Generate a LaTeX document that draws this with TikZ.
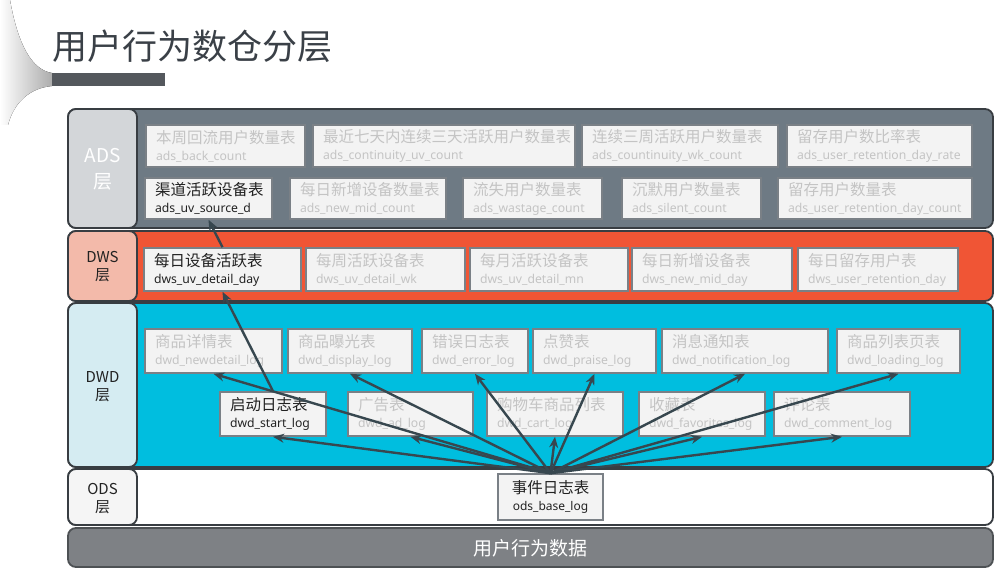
\documentclass[tikz,border=0pt]{standalone}
\usepackage{fontspec}
\setmainfont{Noto Sans CJK SC}
\newfontfamily\cnf{Noto Sans CJK SC}
\newfontfamily\enf{Noto Sans}
\usetikzlibrary{arrows.meta}
\definecolor{adsband}{HTML}{6E7A84}
\definecolor{adslbl}{HTML}{D3D6D9}
\definecolor{dwsband}{HTML}{F05535}
\definecolor{dwslbl}{HTML}{F3BAAA}
\definecolor{dwdband}{HTML}{00BEDF}
\definecolor{dwdlbl}{HTML}{D5ECF2}
\definecolor{odslbl}{HTML}{F5F5F5}
\definecolor{bottomband}{HTML}{7E8185}
\definecolor{bandedge}{HTML}{383D42}
\definecolor{boxedge}{HTML}{7A8086}
\definecolor{boxfill}{HTML}{F3F3F3}
\definecolor{inactive}{HTML}{C4C4C4}
\definecolor{activetext}{HTML}{222222}
\definecolor{arrowcol}{HTML}{37474F}
\definecolor{titlecol}{HTML}{3A4047}
\definecolor{titlebar}{HTML}{54585D}
\newcommand\tb[8]{%
 \pgfmathsetmacro\tbw{#4-#2}\pgfmathsetmacro\tbh{#5-#3}\pgfmathsetmacro\tbt{#4-#2-20}%
 \node[tbox,#6,minimum width=\tbw pt,minimum height=\tbh pt,text width=\tbt pt] (#1) at ({(#2+#4)/2},{(#3+#5)/2}) {#7\\{\enf\fontsize{12.2}{17}\selectfont #8}};}
\begin{document}
\begin{tikzpicture}[x=1pt,y=-1pt,
  band/.style={draw=bandedge, line width=1.8pt, rounded corners=8pt},
  tbox/.style={draw=boxedge, line width=1.6pt, fill=boxfill, inner xsep=10pt, inner ysep=0pt, align=left, text=inactive, font=\cnf\fontsize{15.5}{17}\selectfont},
  active/.style={text=activetext},
  lbltext/.style={align=center, inner sep=0pt},
  arr/.style={draw=arrowcol, line width=2.4pt, -{Stealth[length=11pt,width=9pt]}}]
\useasboundingbox (0,0) rectangle (996,569);
% decorative swoosh
\fill[left color=white, right color=gray!65] (0,0) -- (10,0) .. controls (18,45) and (32,70) .. (52,73) -- (52,86) .. controls (30,88) and (14,102) .. (8,125) -- (0,125) -- cycle;
\fill[titlebar] (52,73) rectangle (165,86);
\node[anchor=west, inner sep=0pt, text=titlecol, font=\cnf\fontsize{35}{40}\selectfont] (title) at (52,46) {用户行为数仓分层};
% bands
\draw[band, fill=adsband] (68,109) rectangle (993,228);
\draw[band, fill=adslbl] (68,109) rectangle (137,228);
\node[lbltext, text=white, font=\cnf\fontsize{19}{26}\selectfont] (adsT) at (102.5,169) {ADS\\层};
\draw[band, fill=dwsband] (68,231) rectangle (993,301);
\draw[band, fill=dwslbl] (68,231) rectangle (137,301);
\node[lbltext, text=activetext, font=\cnf\fontsize{15}{18}\selectfont] (dwsT) at (102.5,267) {DWS\\层};
\draw[band, fill=dwdband] (68,303) rectangle (993,467);
\draw[band, fill=dwdlbl] (68,303) rectangle (137,467);
\node[lbltext, text=activetext, font=\cnf\fontsize{15}{18}\selectfont] (dwdT) at (102.5,387) {DWD\\层};
\draw[band, fill=white] (68,469) rectangle (993,525);
\draw[band, fill=odslbl] (68,469) rectangle (137,525);
\node[lbltext, text=activetext, font=\cnf\fontsize{15}{18}\selectfont] (odsT) at (102.5,499) {ODS\\层};
\draw[band, draw=bandedge!70!gray, fill=bottomband] (68,528) rectangle (993,567);
\node[lbltext, text=white, font=\cnf\fontsize{19}{22}\selectfont] (rawT) at (530.5,548) {用户行为数据};
% ADS tables
\tb{a11}{146}{125}{305}{167}{}{本周回流用户数量表}{ads\_back\_count}
\tb{a12}{313}{125}{575}{167}{}{最近七天内连续三天活跃用户数量表}{ads\_continuity\_uv\_count}
\tb{a13}{582}{125}{778}{167}{}{连续三周活跃用户数量表}{ads\_countinuity\_wk\_count}
\tb{a14}{787}{125}{972}{167}{}{留存用户数比率表}{ads\_user\_retention\_day\_rate}
\tb{a21}{145}{178}{272}{219}{active}{渠道活跃设备表}{ads\_uv\_source\_d}
\tb{a22}{290}{178}{446}{219}{}{每日新增设备数量表}{ads\_new\_mid\_count}
\tb{a23}{463}{178}{602}{219}{}{流失用户数量表}{ads\_wastage\_count}
\tb{a24}{622}{178}{761}{219}{}{沉默用户数量表}{ads\_silent\_count}
\tb{a25}{778}{178}{972}{219}{}{留存用户数量表}{ads\_user\_retention\_day\_count}
% DWS tables
\tb{s1}{144}{248}{301}{291}{active}{每日设备活跃表}{dws\_uv\_detail\_day}
\tb{s2}{306}{248}{465}{291}{}{每周活跃设备表}{dws\_uv\_detail\_wk}
\tb{s3}{470}{248}{628}{291}{}{每月活跃设备表}{dws\_uv\_detail\_mn}
\tb{s4}{632}{248}{792}{291}{}{每日新增设备表}{dws\_new\_mid\_day}
\tb{s5}{798}{248}{958}{291}{}{每日留存用户表}{dws\_user\_retention\_day}
% DWD tables
\tb{nd}{145}{329}{282}{373}{}{商品详情表}{dwd\_newdetail\_log}
\tb{dp}{288}{329}{412}{373}{}{商品曝光表}{dwd\_display\_log}
\tb{er}{422}{329}{528}{373}{}{错误日志表}{dwd\_error\_log}
\tb{pr}{533}{329}{656}{373}{}{点赞表}{dwd\_praise\_log}
\tb{nt}{662}{329}{828}{373}{}{消息通知表}{dwd\_notification\_log}
\tb{ld}{837}{329}{960}{373}{}{商品列表页表}{dwd\_loading\_log}
\tb{st}{220}{392}{326}{436}{active}{启动日志表}{dwd\_start\_log}
\tb{ad}{348}{392}{473}{436}{}{广告表}{dwd\_ad\_log}
\tb{ct}{487}{392}{623}{436}{}{购物车商品列表}{dwd\_cart\_log}
\tb{fv}{639}{392}{765}{436}{}{收藏表}{dwd\_favorites\_log}
\tb{cm}{774}{392}{910}{436}{}{评论表}{dwd\_comment\_log}
% ODS table
\node[tbox, active, align=center, inner xsep=4pt, minimum width=105pt, minimum height=46pt] (ods) at (550.5,497) {事件日志表\\{\enf\fontsize{12}{17}\selectfont ods\_base\_log}};
% arrows
\foreach \t in {nd,dp,er,pr,nt,ld,st,ad,ct,fv,cm}
  \draw[arr] (ods.north) -- (\t.south);
\draw[arr] (st.north) -- (s1.south);
\draw[arr] (s1.north) -- (a21.south);
\end{tikzpicture}
\end{document}
